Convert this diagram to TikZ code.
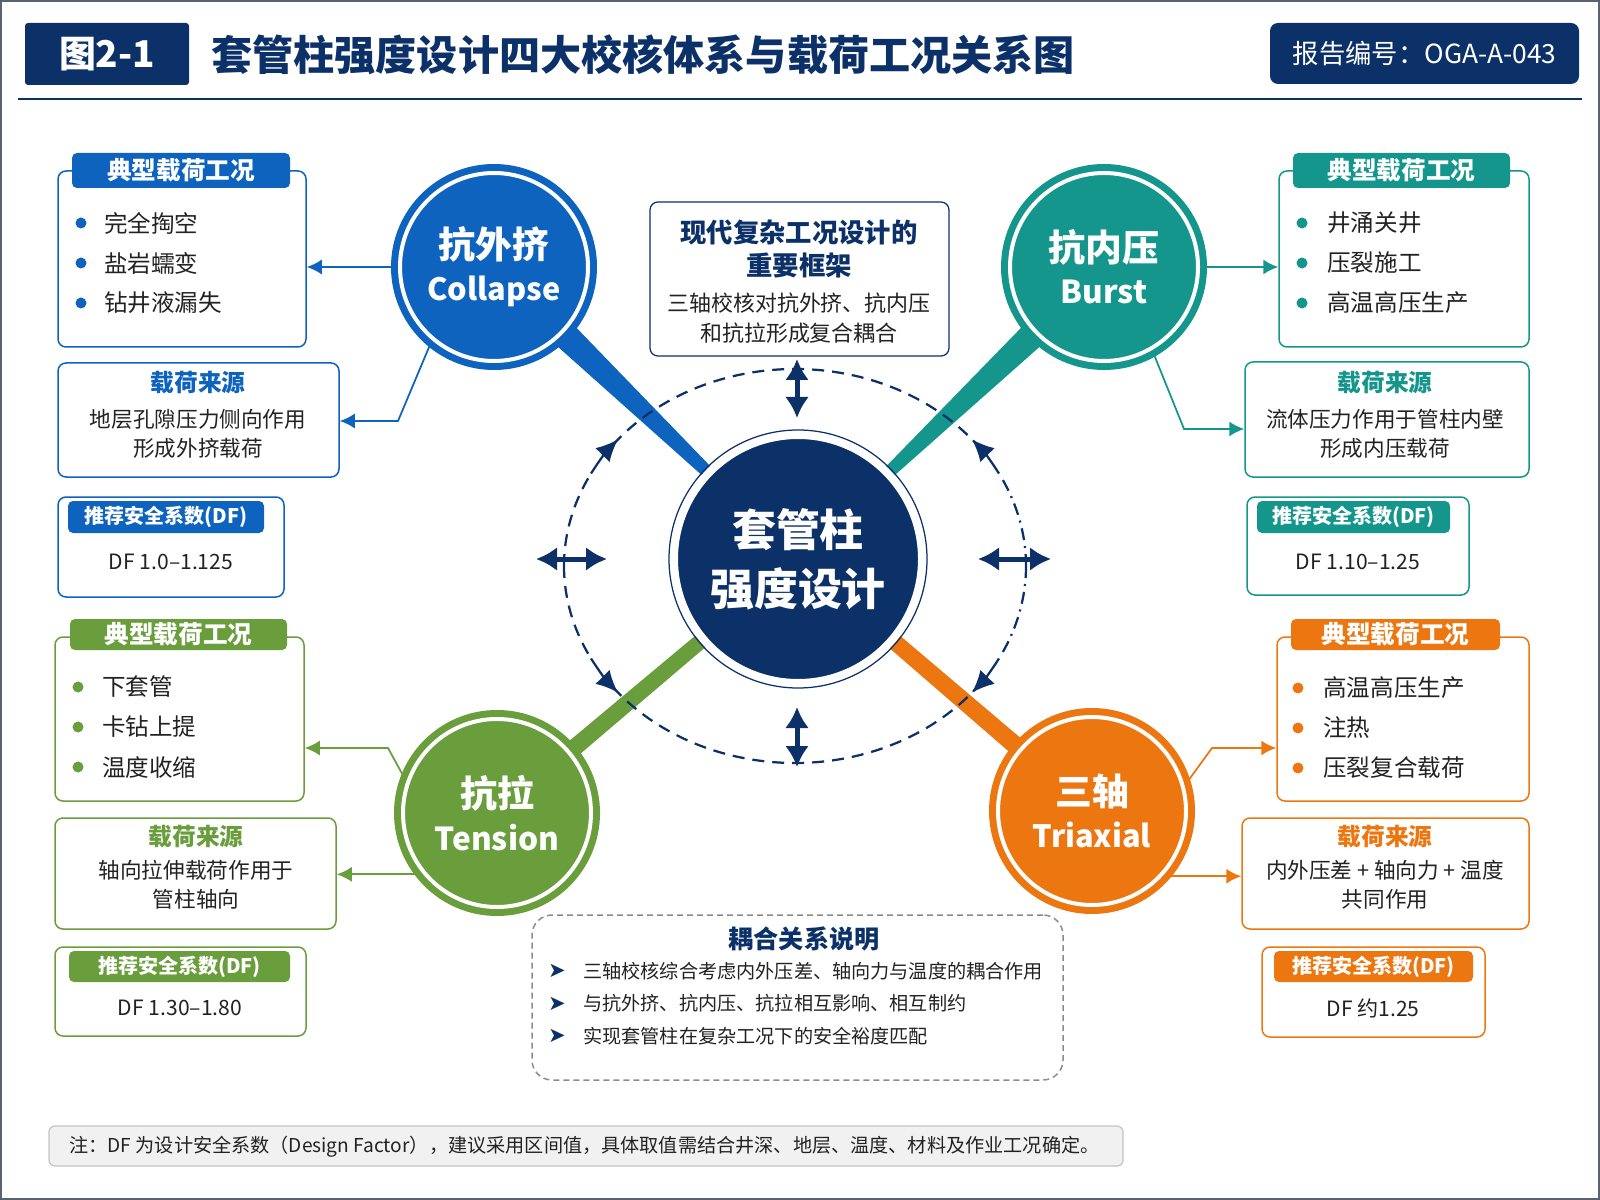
\documentclass[tikz,border=0pt]{standalone}
\usepackage{fontspec}
\setmainfont{Noto Sans CJK SC}
\newfontfamily\symfont{DejaVu Sans}
\usetikzlibrary{arrows.meta,fit,calc,backgrounds}
\definecolor{navy}{HTML}{0C3068}
\definecolor{colblue}{HTML}{0D63BE}
\definecolor{colteal}{HTML}{14968C}
\definecolor{colgreen}{HTML}{6A9D3C}
\definecolor{colorange}{HTML}{EC7711}
\definecolor{inktext}{HTML}{222222}
\definecolor{notefill}{HTML}{F1F1F1}
\definecolor{notegray}{HTML}{C4C4C4}
\definecolor{dashgray}{HTML}{8C8C8C}
\definecolor{framegray}{HTML}{5B6272}

\begin{document}
\begin{tikzpicture}
[
x=0.2mm, y=-0.2mm,
casebox/.style={draw=#1, line width=0.3mm, rounded corners=1.6mm, fill=white, inner sep=0pt},
casetab/.style={fill=#1, rounded corners=1mm, inner sep=0pt},
tabtext/.style={text=white, inner sep=0pt, font=\fontsize{14}{16}\selectfont\bfseries},
dftext/.style={text=white, inner sep=0pt, font=\fontsize{11.4}{13}\selectfont\bfseries},
bulletdot/.style={circle, fill=#1, inner sep=0pt, minimum size=2.2mm},
caseitem/.style={anchor=west, text=inktext, font=\fontsize{13.4}{16}\selectfont, inner sep=0pt},
srchead/.style={text=#1, font=\fontsize{13.5}{16}\selectfont\bfseries, inner sep=0pt},
srctext/.style={text=inktext, font=\fontsize{12.3}{16.5}\selectfont, align=center, inner sep=0pt},
dfvalue/.style={text=inktext, font=\fontsize{12}{14}\selectfont, inner sep=0pt},
checkring/.style={circle, fill=#1, draw=#1, double=white, double distance=0.8mm, line width=1.4mm,
  minimum size=37.6mm, inner sep=0pt, text=white, align=center, font=\fontsize{21}{24}\selectfont\bfseries},
feed/.style={draw=#1, line width=0.35mm, -{Latex[length=3mm,width=3mm]}},
twoway/.style={navy, line width=1mm, {Latex[length=4.2mm,width=4.8mm]}-{Latex[length=4.2mm,width=4.8mm]}},
ringdash/.style={navy, line width=0.45mm, dash pattern=on 2.4mm off 1.6mm},
ringdot/.style={navy, line width=0.45mm, dash pattern=on 2.4mm off 1.2mm on 0.4mm off 1.2mm},
ringtip/.style={navy, line width=0.45mm, -{Latex[length=4.4mm,width=4mm]}},
cue/.style={text=navy, font=\symfont\fontsize{12}{14}\selectfont, inner sep=0pt},
cuetext/.style={anchor=west, text=inktext, font=\fontsize{10.9}{14}\selectfont, inner sep=0pt},
]
\useasboundingbox (0,0) rectangle (1600,1200);
\draw[framegray, line width=0.4mm] (1,1) rectangle (1599,1199);

%Header
\node[fill=navy, rounded corners=0.6mm, inner sep=0pt, fit={(25,23) (189,85)}] (figtag) {};
\node[text=white, font=\fontsize{21}{24}\selectfont\bfseries, inner sep=0pt] (figtagt) at (figtag.center) {图2-1};
\node[anchor=west, text=navy, font=\fontsize{23.4}{26}\selectfont\bfseries, inner sep=0pt] (figtitle) at (211,55) {套管柱强度设计四大校核体系与载荷工况关系图};
\node[fill=navy, rounded corners=1.6mm, inner sep=0pt, fit={(1270,23) (1579,84)}] (reportno) {};
\node[text=white, font=\fontsize{15}{18}\selectfont, inner sep=0pt] (reportnot) at (reportno.center) {报告编号：OGA-A-043};
\draw[navy, line width=0.4mm] (18,99) -- (1582,99);

%Place the circles
\node[circle, fill=navy, draw=white, line width=1.6mm, minimum size=49.6mm, inner sep=0pt, text=white, align=center, font=\fontsize{25}{33.6}\selectfont\bfseries] (ccen) at (798,559) {套管柱\\强度设计};
\draw[navy, line width=0.25mm] (ccen.center) circle[radius=25.8mm];
\node[checkring=colblue] (ccol) at (494,267) {抗外挤\\{\fontsize{17.5}{24}\selectfont Collapse}};
\node[checkring=colteal] (cbur) at (1104,267) {抗内压\\{\fontsize{18}{24}\selectfont Burst}};
\node[checkring=colgreen] (cten) at (497,813) {抗拉\\{\fontsize{18}{24}\selectfont Tension}};
\node[checkring=colorange] (ctri) at (1092,811) {三轴\\{\fontsize{17.5}{24}\selectfont Triaxial}};

%Stems and the coupling ring
\begin{scope}[on background layer]
\fill[colblue] ($(ccol.center)!3.4mm!90:(ccen.center)$) -- ($(ccol.center)!3.4mm!-90:(ccen.center)$) -- ($(ccen.center)!0.3mm!90:(ccol.center)$) -- ($(ccen.center)!0.3mm!-90:(ccol.center)$) -- cycle;
\fill[colteal] ($(cbur.center)!3.4mm!90:(ccen.center)$) -- ($(cbur.center)!3.4mm!-90:(ccen.center)$) -- ($(ccen.center)!0.3mm!90:(cbur.center)$) -- ($(ccen.center)!0.3mm!-90:(cbur.center)$) -- cycle;
\fill[colgreen] ($(cten.center)!1.8mm!90:(ccen.center)$) -- ($(cten.center)!1.8mm!-90:(ccen.center)$) -- ($(ccen.center)!1.4mm!90:(cten.center)$) -- ($(ccen.center)!1.4mm!-90:(cten.center)$) -- cycle;
\fill[colorange] ($(ctri.center)!1.9mm!90:(ccen.center)$) -- ($(ctri.center)!1.9mm!-90:(ccen.center)$) -- ($(ccen.center)!1.5mm!90:(ctri.center)$) -- ($(ccen.center)!1.5mm!-90:(ctri.center)$) -- cycle;
\coordinate (ellc) at (795,566);
\draw[ringdash] ([shift={(142:46.2mm and 39.4mm)}]ellc) arc[start angle=142, end angle=38, x radius=46.2mm, y radius=39.4mm];
\draw[ringdash] ([shift={(218:46.2mm and 39.4mm)}]ellc) arc[start angle=218, end angle=322, x radius=46.2mm, y radius=39.4mm];
\draw[ringdash] ([shift={(180:46.2mm and 39.4mm)}]ellc) arc[start angle=180, end angle=153, x radius=46.2mm, y radius=39.4mm];
\draw[ringdash] ([shift={(180:46.2mm and 39.4mm)}]ellc) arc[start angle=180, end angle=207, x radius=46.2mm, y radius=39.4mm];
\draw[ringdot] ([shift={(0:46.2mm and 39.4mm)}]ellc) arc[start angle=0, end angle=27, x radius=46.2mm, y radius=39.4mm];
\draw[ringdot] ([shift={(0:46.2mm and 39.4mm)}]ellc) arc[start angle=0, end angle=-27, x radius=46.2mm, y radius=39.4mm];
\draw[ringtip] ([shift={(152:46.2mm and 39.4mm)}]ellc) arc[start angle=152, end angle=140, x radius=46.2mm, y radius=39.4mm];
\draw[ringtip] ([shift={(208:46.2mm and 39.4mm)}]ellc) arc[start angle=208, end angle=220, x radius=46.2mm, y radius=39.4mm];
\draw[ringtip] ([shift={(28:46.2mm and 39.4mm)}]ellc) arc[start angle=28, end angle=40, x radius=46.2mm, y radius=39.4mm];
\draw[ringtip] ([shift={(-28:46.2mm and 39.4mm)}]ellc) arc[start angle=-28, end angle=-40, x radius=46.2mm, y radius=39.4mm];
\end{scope}

%Framework box
\node[casebox=navy, line width=0.25mm, fit={(650,202) (949,356)}] (framebox) {};
\node[text=navy, font=\fontsize{15}{18.8}\selectfont\bfseries, align=center, inner sep=0pt] (framehead) at (799,249) {现代复杂工况设计的\\重要框架};
\node[text=inktext, font=\fontsize{12.5}{17}\selectfont, align=center, inner sep=0pt] (framebody) at (799,318) {三轴校核对抗外挤、抗内压\\和抗拉形成复合耦合};

%Collapse
\node[casebox=colblue, fit={(58,171) (306,347)}] (typcol) {};
\node[casetab=colblue, fit={(72,153) (290,188)}] (typcolh) {};
\node[tabtext] (typcolt) at (typcolh.center) {典型载荷工况};
\foreach \t [count=\i] in {完全掏空,盐岩蠕变,钻井液漏失}{
  \node[bulletdot=colblue] (dcol\i) at (81,{183+40*\i}) {};
  \node[caseitem] (tcol\i) at (104,{183+40*\i}) {\t};
}
\node[casebox=colblue, fit={(58,363) (339,477)}] (srccol) {};
\node[srchead=colblue] (srccolh) at (198,383) {载荷来源};
\node[srctext] (srccolt) at (198,434) {地层孔隙压力侧向作用\\形成外挤载荷};
\node[casebox=colblue, fit={(58,497) (284,597)}] (dfcol) {};
\node[casetab=colblue, fit={(68,501) (264,533)}] (dfcolh) {};
\node[dftext] (dfcolt) at (dfcolh.center) {推荐安全系数(DF)};
\node[dfvalue] (dfcolv) at (171,562) {DF 1.0–1.125};

%Burst
\node[casebox=colteal, fit={(1279,171) (1529,347)}] (typbur) {};
\node[casetab=colteal, fit={(1293,153) (1510,188)}] (typburh) {};
\node[tabtext] (typburt) at (typburh.center) {典型载荷工况};
\foreach \t [count=\i] in {井涌关井,压裂施工,高温高压生产}{
  \node[bulletdot=colteal] (dbur\i) at (1302,{183+40*\i}) {};
  \node[caseitem] (tbur\i) at (1327,{183+40*\i}) {\t};
}
\node[casebox=colteal, fit={(1245,362) (1529,477)}] (srcbur) {};
\node[srchead=colteal] (srcburh) at (1385,383) {载荷来源};
\node[srctext] (srcburt) at (1385,434) {流体压力作用于管柱内壁\\形成内压载荷};
\node[casebox=colteal, fit={(1247,497) (1469,595)}] (dfbur) {};
\node[casetab=colteal, fit={(1257,501) (1450,533)}] (dfburh) {};
\node[dftext] (dfburt) at (dfburh.center) {推荐安全系数(DF)};
\node[dfvalue] (dfburv) at (1358,562) {DF 1.10–1.25};

%Tension
\node[casebox=colgreen, fit={(55,637) (304,801)}] (typten) {};
\node[casetab=colgreen, fit={(70,619) (287,650)}] (typtenh) {};
\node[tabtext] (typtent) at (typtenh.center) {典型载荷工况};
\foreach \t [count=\i] in {下套管,卡钻上提,温度收缩}{
  \node[bulletdot=colgreen] (dten\i) at (78,{647+40*\i}) {};
  \node[caseitem] (tten\i) at (102,{647+40*\i}) {\t};
}
\node[casebox=colgreen, fit={(55,818) (336,929)}] (srcten) {};
\node[srchead=colgreen] (srctenh) at (196,837) {载荷来源};
\node[srctext] (srctent) at (196,885) {轴向拉伸载荷作用于\\管柱轴向};
\node[casebox=colgreen, fit={(55,947) (306,1036)}] (dften) {};
\node[casetab=colgreen, fit={(69,951) (290,982)}] (dftenh) {};
\node[dftext] (dftent) at (dftenh.center) {推荐安全系数(DF)};
\node[dfvalue] (dftenv) at (180,1008) {DF 1.30–1.80};

%Triaxial
\node[casebox=colorange, fit={(1277,637) (1529,801)}] (typtri) {};
\node[casetab=colorange, fit={(1291,619) (1500,650)}] (typtrih) {};
\node[tabtext] (typtrit) at (typtrih.center) {典型载荷工况};
\foreach \t [count=\i] in {高温高压生产,注热,压裂复合载荷}{
  \node[bulletdot=colorange] (dtri\i) at (1298,{648+40*\i}) {};
  \node[caseitem] (ttri\i) at (1323,{648+40*\i}) {\t};
}
\node[casebox=colorange, fit={(1242,818) (1529,929)}] (srctri) {};
\node[srchead=colorange] (srctrih) at (1385,837) {载荷来源};
\node[srctext] (srctrit) at (1385,885) {内外压差 + 轴向力 + 温度\\共同作用};
\node[casebox=colorange, fit={(1262,947) (1485,1037)}] (dftri) {};
\node[casetab=colorange, fit={(1274,951) (1473,982)}] (dftrih) {};
\node[dftext] (dftrit) at (dftrih.center) {推荐安全系数(DF)};
\node[dfvalue] (dftriv) at (1373,1008) {DF 约1.25};

%Coupling notes
\node[draw=dashgray, dash pattern=on 1.2mm off 0.8mm, line width=0.3mm, rounded corners=4mm, inner sep=0pt, fit={(532,915) (1063,1080)}] (couple) {};
\node[text=navy, font=\fontsize{14.3}{16}\selectfont\bfseries, inner sep=0pt] (coupleh) at (804,939) {耦合关系说明};
\foreach \t [count=\i] in {三轴校核综合考虑内外压差、轴向力与温度的耦合作用,与抗外挤、抗内压、抗拉相互影响、相互制约,实现套管柱在复杂工况下的安全裕度匹配}{
  \node[cue] (cuea\i) at (557,{938.5+32.5*\i}) {➤};
  \node[cuetext] (cuet\i) at (583,{938.5+32.5*\i}) {\t};
}

%Footnote
\node[fill=notefill, draw=notegray, line width=0.25mm, rounded corners=1.2mm, inner sep=0pt, fit={(49,1126) (1123,1166)}] (notebox) {};
\node[anchor=west, text=inktext, font=\fontsize{10.9}{13}\selectfont, inner sep=0pt] (notet) at (69,1147) {注：DF 为设计安全系数（Design Factor），建议采用区间值，具体取值需结合井深、地层、温度、材料及作业工况确定。};

%Draw the connections
\draw[feed=colblue] (ccol.west) -- (ccol.west -| typcol.east);
\coordinate (kcol) at (398,421);
\draw[feed=colblue] (ccol.230) -- (kcol) -- (kcol -| srccol.east);
\draw[feed=colteal] (cbur.east) -- (cbur.east -| typbur.west);
\coordinate (kbur) at (1184,429);
\draw[feed=colteal] (cbur.-60) -- (kbur) -- (kbur -| srcbur.west);
\coordinate (kten) at (388,748);
\draw[feed=colgreen] (cten.160) -- (kten) -- (kten -| typten.east);
\draw[feed=colgreen] (cten.219) -- (cten.219 -| srcten.east);
\coordinate (ktri) at (1212,748);
\draw[feed=colorange] (ctri.16) -- (ktri) -- (ktri -| typtri.west);
\draw[feed=colorange] (ctri.-42) -- (ctri.-42 -| srctri.west);

\coordinate (upa) at (797,359);
\coordinate (upb) at (797,418);
\coordinate (dna) at (797,707);
\coordinate (dnb) at (797,767);
\coordinate (lfa) at (536,559);
\coordinate (lfb) at (607,559);
\coordinate (rta) at (978,559);
\coordinate (rtb) at (1051,559);
\draw[twoway] (upa) -- (upb);
\draw[twoway] (dna) -- (dnb);
\draw[twoway] (lfa) -- (lfb);
\draw[twoway] (rta) -- (rtb);
\end{tikzpicture}
\end{document}
